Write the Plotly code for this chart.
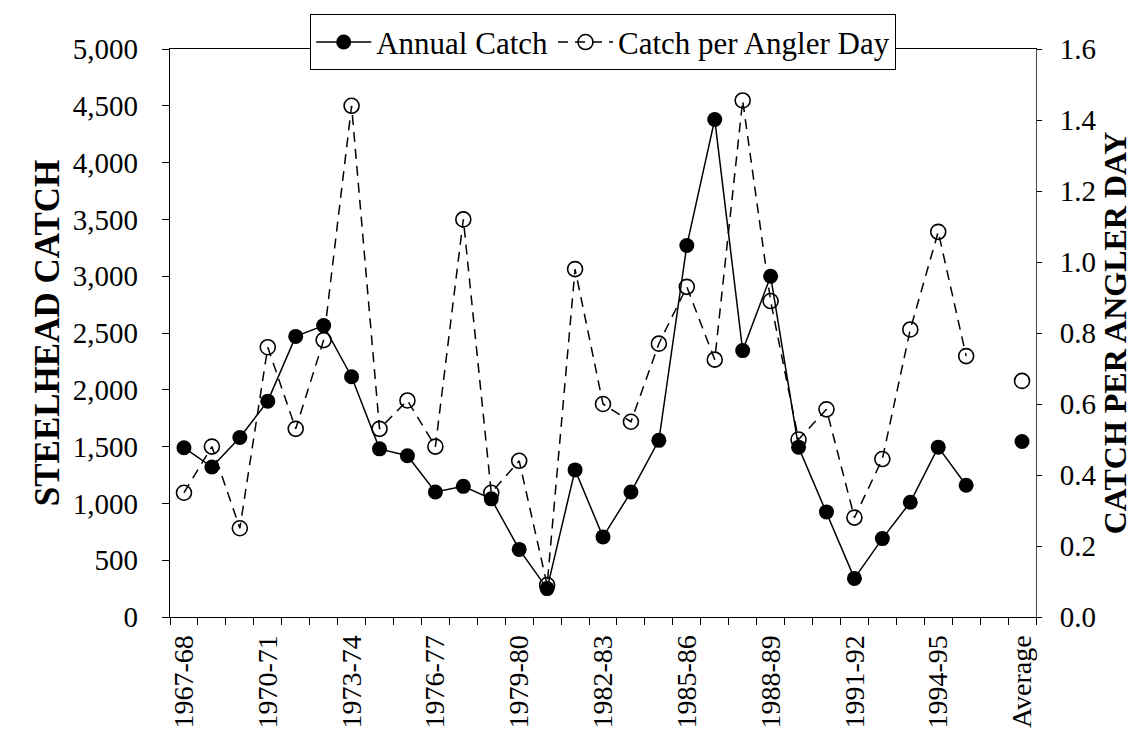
import plotly.graph_objects as go

# Categories (seasons + blank spacer + Average)
seasons = ["1967-68", "1968-69", "1969-70", "1970-71", "1971-72", "1972-73",
           "1973-74", "1974-75", "1975-76", "1976-77", "1977-78", "1978-79",
           "1979-80", "1980-81", "1981-82", "1982-83", "1983-84", "1984-85",
           "1985-86", "1986-87", "1987-88", "1988-89", "1989-90", "1990-91",
           "1991-92", "1992-93", "1993-94", "1994-95", "1995-96"]
categories = seasons + ["1996-97", "Average"]

annual_catch = [1490, 1320, 1580, 1900, 2470, 2565, 2115, 1480, 1420, 1100,
                1150, 1040, 595, 250, 1295, 705, 1100, 1555, 3270, 4380,
                2345, 3000, 1495, 925, 340, 690, 1010, 1495, 1160]
annual_catch_avg = 1545

catch_per_day = [0.35, 0.48, 0.25, 0.76, 0.53, 0.78, 1.44, 0.53, 0.61, 0.48,
                 1.12, 0.35, 0.44, 0.09, 0.98, 0.60, 0.55, 0.77, 0.93, 0.725,
                 1.455, 0.89, 0.50, 0.585, 0.28, 0.445, 0.81, 1.085, 0.735]
catch_per_day_avg = 0.665

left_ticks = [0, 500, 1000, 1500, 2000, 2500, 3000, 3500, 4000, 4500, 5000]
right_ticks = [0.0, 0.2, 0.4, 0.6, 0.8, 1.0, 1.2, 1.4, 1.6]
label_every = 3

# positions from category index
xs = [categories.index(s) for s in seasons]
x_avg = categories.index("Average")
x_all = xs + [categories.index("1996-97"), x_avg]
y1_all = annual_catch + [None, annual_catch_avg]
y2_all = catch_per_day + [None, catch_per_day_avg]

tickvals = list(range(0, len(categories), label_every))
ticktext = [categories[i] for i in tickvals]

FONT = "Liberation Serif, Times New Roman, serif"

fig = go.Figure()
fig.add_trace(go.Scatter(
    x=x_all, y=y1_all, name="Annual Catch", mode="lines+markers",
    connectgaps=False,
    line=dict(color="black", width=1.5),
    marker=dict(symbol="circle", size=15, color="black"),
))
fig.add_trace(go.Scatter(
    x=x_all, y=y2_all, name="Catch per Angler Day", mode="lines+markers",
    yaxis="y2", connectgaps=False,
    line=dict(color="black", width=1.5, dash="10px,7px"),
    marker=dict(symbol="circle-open", size=15, color="black",
                line=dict(width=1.6, color="black")),
))

fig.update_layout(
    width=1135, height=752,
    margin=dict(l=162, r=107, t=41, b=143, autoexpand=False),
    paper_bgcolor="white", plot_bgcolor="white",
    font=dict(family=FONT, size=28, color="black"),
    showlegend=True,
    legend=dict(
        orientation="h", x=0.5, xanchor="center", y=1.012, yanchor="middle",
        bgcolor="white", bordercolor="black", borderwidth=1.2,
        font=dict(family=FONT, size=31, color="black"),
        itemwidth=55, tracegroupgap=0,
    ),
    xaxis=dict(
        range=[-0.5, len(categories) - 0.5],
        tickmode="array", tickvals=tickvals, ticktext=ticktext,
        tickangle=-90, ticks="", showgrid=False, zeroline=False,
        showline=True, linecolor="black", linewidth=1.2, mirror=True,
        tickfont=dict(family=FONT, size=28),
        ticklabelstandoff=6,
        minor=dict(tick0=-0.5, dtick=1, ticks="outside", ticklen=7,
                   tickcolor="black", tickwidth=1, showgrid=False),
    ),
    yaxis=dict(
        range=[0, 5000], tickvals=left_ticks, tickformat=",",
        ticks="outside", ticklen=7, tickcolor="black",
        showgrid=False, zeroline=False,
        showline=True, linecolor="black", linewidth=1.2,
        tickfont=dict(family=FONT, size=29),
        ticklabelstandoff=18,
        title=dict(text="<b>STEELHEAD CATCH</b>", standoff=2,
                   font=dict(family=FONT, size=35)),
    ),
    yaxis2=dict(
        range=[0, 1.6], tickvals=right_ticks, tickformat=".1f",
        overlaying="y", side="right",
        ticks="outside", ticklen=5, tickcolor="black",
        showgrid=False, zeroline=False,
        showline=True, linecolor="#444", linewidth=1,
        tickfont=dict(family=FONT, size=29),
        ticklabelstandoff=12,
        title=dict(text="<b>CATCH PER ANGLER DAY</b>", standoff=2,
                   font=dict(family=FONT, size=32)),
    ),
)

fig.write_html("out.html")
